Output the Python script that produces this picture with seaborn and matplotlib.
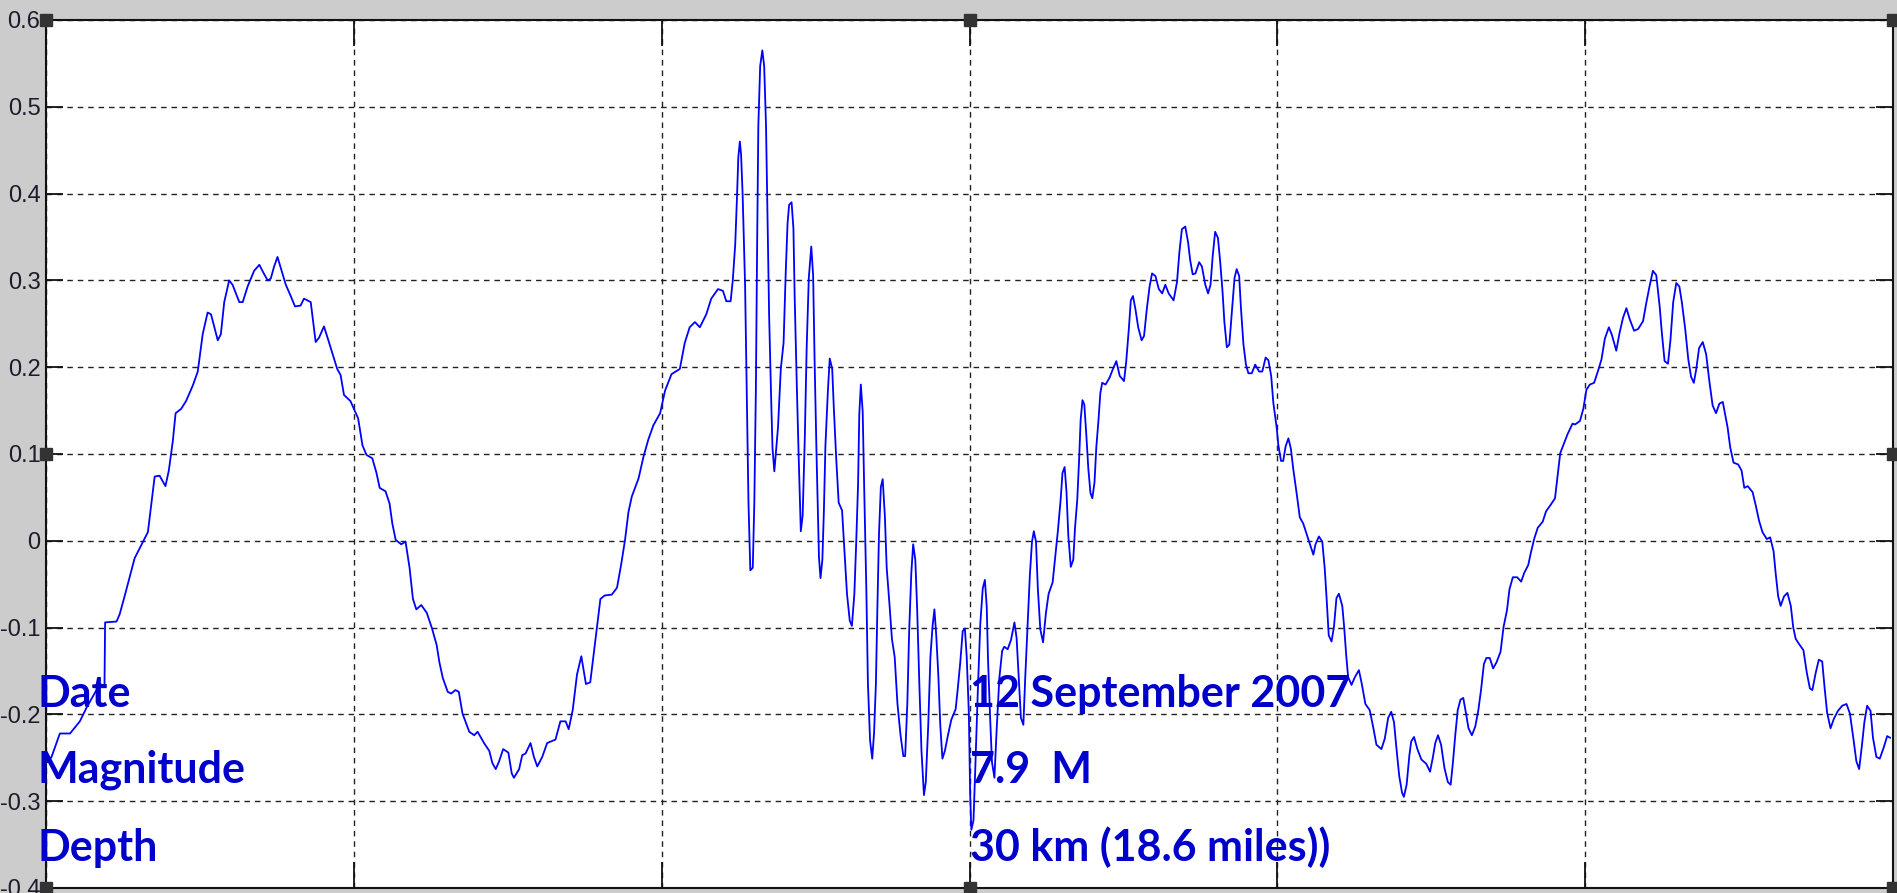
import numpy as np
import pandas as pd
import matplotlib
matplotlib.use("Agg")
import matplotlib.pyplot as plt
import seaborn as sns
from matplotlib import font_manager

# ----- DATA (x in grid units, y in signal units) -----
x_seg1 = [0.005, 0.018, 0.045, 0.078, 0.110, 0.132, 0.175, 0.190, 0.192, 0.229, 0.239, 0.256,
          0.288, 0.315, 0.331, 0.342, 0.353, 0.369, 0.388, 0.399, 0.412, 0.421, 0.439, 0.455,
          0.477, 0.493, 0.509, 0.525, 0.536, 0.558, 0.568, 0.579, 0.595, 0.606, 0.628, 0.639,
          0.655, 0.676, 0.693, 0.703, 0.720, 0.730, 0.741, 0.752, 0.763, 0.779, 0.795, 0.809,
          0.827, 0.838, 0.860, 0.876, 0.887, 0.903, 0.919, 0.946, 0.957, 0.968, 0.989]
y_seg1 = [-0.255, -0.249, -0.222, -0.222, -0.208, -0.192, -0.165, -0.167, -0.094, -0.093, -0.085, -0.063,
          -0.020, -0.001, 0.010, 0.042, 0.074, 0.075, 0.063, 0.081, 0.115, 0.147, 0.152, 0.161,
          0.179, 0.195, 0.238, 0.263, 0.261, 0.231, 0.238, 0.275, 0.300, 0.295, 0.275, 0.275,
          0.293, 0.311, 0.318, 0.311, 0.300, 0.302, 0.316, 0.327, 0.314, 0.295, 0.282, 0.270,
          0.271, 0.279, 0.275, 0.229, 0.234, 0.247, 0.229, 0.198, 0.191, 0.168, 0.161]

x_seg2 = [1.014, 1.028, 1.041, 1.060, 1.073, 1.084, 1.103, 1.116, 1.125, 1.136, 1.154, 1.168,
          1.181, 1.192, 1.203, 1.219, 1.237, 1.254, 1.269, 1.278, 1.289, 1.305, 1.316, 1.330,
          1.341, 1.353, 1.375, 1.391, 1.402, 1.423, 1.440, 1.450, 1.461, 1.472, 1.485, 1.502,
          1.513, 1.520, 1.537, 1.547, 1.558, 1.574, 1.585, 1.596, 1.612, 1.628, 1.655, 1.671,
          1.688, 1.698, 1.711, 1.725, 1.739, 1.754, 1.768, 1.779, 1.790, 1.801, 1.815, 1.838,
          1.855, 1.869, 1.881, 1.892, 1.903, 1.925, 1.941, 1.957, 1.973, 1.995]
y_seg2 = [0.141, 0.110, 0.099, 0.095, 0.079, 0.061, 0.057, 0.043, 0.020, 0.001, -0.004, -0.001,
          -0.031, -0.067, -0.079, -0.074, -0.083, -0.101, -0.120, -0.140, -0.158, -0.174, -0.176, -0.172,
          -0.174, -0.199, -0.220, -0.224, -0.220, -0.233, -0.242, -0.256, -0.263, -0.254, -0.240, -0.244,
          -0.268, -0.273, -0.263, -0.247, -0.245, -0.233, -0.249, -0.260, -0.249, -0.233, -0.229, -0.208,
          -0.208, -0.217, -0.195, -0.154, -0.133, -0.165, -0.163, -0.131, -0.099, -0.067, -0.063, -0.062,
          -0.054, -0.026, 0.001, 0.033, 0.051, 0.072, 0.097, 0.117, 0.133, 0.147]

x_seg3 = [2.011, 2.032, 2.059, 2.075, 2.091, 2.108, 2.124, 2.145, 2.161, 2.183, 2.199, 2.210,
          2.224, 2.231, 2.239, 2.245, 2.249, 2.254, 2.258, 2.263, 2.271, 2.277, 2.282, 2.288,
          2.296, 2.301, 2.306, 2.310, 2.314, 2.320, 2.327, 2.333, 2.339, 2.344, 2.349, 2.355,
          2.360, 2.366, 2.371, 2.378, 2.387, 2.396, 2.403, 2.409, 2.414, 2.422, 2.428, 2.432,
          2.439, 2.445, 2.452, 2.458, 2.465, 2.471, 2.478, 2.486, 2.492, 2.497, 2.503, 2.511,
          2.516, 2.522, 2.527, 2.532, 2.540, 2.546, 2.554, 2.559, 2.567, 2.575, 2.586, 2.594,
          2.602, 2.611, 2.618, 2.626, 2.632, 2.638, 2.642, 2.647, 2.653, 2.658, 2.665, 2.670,
          2.677, 2.684, 2.690, 2.696, 2.701, 2.706, 2.712, 2.718, 2.725, 2.731, 2.740, 2.748,
          2.757, 2.766, 2.776, 2.785, 2.791, 2.798, 2.804, 2.811, 2.817, 2.824, 2.830, 2.837,
          2.844, 2.852, 2.858, 2.866, 2.873, 2.880, 2.886, 2.892, 2.899, 2.905, 2.912, 2.920,
          2.930, 2.941, 2.955, 2.962, 2.970, 2.978, 2.985, 2.991, 2.998, 3.002, 3.006]
y_seg3 = [0.173, 0.192, 0.198, 0.228, 0.246, 0.252, 0.246, 0.261, 0.279, 0.290, 0.288, 0.276,
          0.276, 0.300, 0.342, 0.399, 0.442, 0.460, 0.445, 0.399, 0.294, 0.161, 0.044, -0.034,
          -0.031, 0.044, 0.173, 0.336, 0.478, 0.547, 0.565, 0.547, 0.478, 0.366, 0.261, 0.173,
          0.107, 0.080, 0.101, 0.131, 0.198, 0.228, 0.309, 0.366, 0.387, 0.390, 0.360, 0.282,
          0.179, 0.098, 0.011, 0.029, 0.119, 0.222, 0.303, 0.339, 0.306, 0.204, 0.101, -0.019,
          -0.043, -0.022, 0.035, 0.110, 0.173, 0.210, 0.198, 0.155, 0.095, 0.044, 0.035, -0.013,
          -0.061, -0.092, -0.098, -0.061, -0.002, 0.065, 0.146, 0.180, 0.149, 0.059, -0.058, -0.164,
          -0.230, -0.251, -0.221, -0.164, -0.073, 0.008, 0.062, 0.071, 0.029, -0.031, -0.073, -0.113,
          -0.134, -0.188, -0.224, -0.248, -0.248, -0.188, -0.104, -0.037, -0.004, -0.022, -0.079, -0.164,
          -0.242, -0.293, -0.278, -0.212, -0.134, -0.098, -0.079, -0.109, -0.157, -0.212, -0.251, -0.242,
          -0.224, -0.206, -0.194, -0.170, -0.140, -0.104, -0.101, -0.134, -0.200, -0.290, -0.333]

x_seg4 = [3.013, 3.019, 3.027, 3.035, 3.043, 3.050, 3.056, 3.060, 3.067, 3.073, 3.081, 3.088,
          3.097, 3.106, 3.113, 3.124, 3.135, 3.146, 3.153, 3.160, 3.167, 3.175, 3.181, 3.189,
          3.196, 3.203, 3.209, 3.216, 3.222, 3.230, 3.239, 3.248, 3.257, 3.270, 3.278, 3.287,
          3.296, 3.302, 3.309, 3.315, 3.321, 3.329, 3.337, 3.343, 3.350, 3.356, 3.361, 3.367,
          3.373, 3.380, 3.386, 3.393, 3.399, 3.406, 3.412, 3.419, 3.425, 3.431, 3.442, 3.455,
          3.466, 3.477, 3.488, 3.502, 3.509, 3.518, 3.524, 3.531, 3.539, 3.548, 3.559, 3.567,
          3.576, 3.585, 3.593, 3.604, 3.615, 3.626, 3.636, 3.647, 3.663, 3.674, 3.682, 3.690,
          3.701, 3.710, 3.717, 3.725, 3.734, 3.746, 3.755, 3.766, 3.775, 3.783, 3.790, 3.798,
          3.807, 3.814, 3.822, 3.828, 3.836, 3.844, 3.852, 3.861, 3.868, 3.876, 3.882, 3.890,
          3.898, 3.906, 3.917, 3.928, 3.941, 3.951, 3.962, 3.971, 3.980]
y_seg4 = [-0.322, -0.260, -0.173, -0.096, -0.055, -0.045, -0.076, -0.135, -0.204, -0.255, -0.273, -0.219,
          -0.158, -0.127, -0.122, -0.125, -0.114, -0.094, -0.112, -0.158, -0.204, -0.212, -0.158, -0.096,
          -0.040, -0.001, 0.011, -0.001, -0.055, -0.102, -0.117, -0.084, -0.061, -0.048, -0.020, 0.011,
          0.047, 0.078, 0.085, 0.057, 0.006, -0.030, -0.022, 0.016, 0.047, 0.093, 0.139, 0.162,
          0.157, 0.119, 0.083, 0.055, 0.049, 0.067, 0.108, 0.139, 0.170, 0.182, 0.180, 0.188,
          0.198, 0.207, 0.190, 0.184, 0.206, 0.246, 0.277, 0.282, 0.267, 0.246, 0.231, 0.236,
          0.267, 0.293, 0.308, 0.305, 0.290, 0.285, 0.295, 0.285, 0.277, 0.298, 0.333, 0.359,
          0.362, 0.344, 0.323, 0.307, 0.308, 0.321, 0.316, 0.295, 0.285, 0.295, 0.328, 0.356,
          0.349, 0.323, 0.287, 0.252, 0.223, 0.226, 0.262, 0.303, 0.313, 0.305, 0.267, 0.226,
          0.203, 0.193, 0.193, 0.203, 0.195, 0.195, 0.211, 0.208, 0.190]

x_seg5 = [3.987, 3.998, 4.003, 4.012, 4.019, 4.027, 4.036, 4.044, 4.052, 4.063, 4.073, 4.084,
          4.095, 4.106, 4.117, 4.124, 4.135, 4.146, 4.154, 4.160, 4.167, 4.176, 4.184, 4.192,
          4.200, 4.211, 4.217, 4.224, 4.230, 4.241, 4.252, 4.265, 4.275, 4.286, 4.300, 4.311,
          4.322, 4.338, 4.349, 4.360, 4.370, 4.379, 4.388, 4.396, 4.405, 4.411, 4.420, 4.429,
          4.435, 4.444, 4.455, 4.468, 4.484, 4.496, 4.505, 4.513, 4.522, 4.532, 4.543, 4.554,
          4.563, 4.570, 4.578, 4.586, 4.595, 4.604, 4.612, 4.621, 4.632, 4.643, 4.653, 4.662,
          4.671, 4.679, 4.690, 4.701, 4.712, 4.725, 4.735, 4.746, 4.754, 4.765, 4.779, 4.792,
          4.802, 4.815, 4.824, 4.835, 4.846, 4.862, 4.873, 4.889, 4.902, 4.910, 4.919, 4.930,
          4.943, 4.959]
y_seg5 = [0.159, 0.130, 0.111, 0.092, 0.092, 0.109, 0.118, 0.106, 0.082, 0.054, 0.027, 0.020,
          0.008, -0.004, -0.016, -0.004, 0.005, -0.001, -0.032, -0.066, -0.109, -0.116, -0.099, -0.066,
          -0.061, -0.075, -0.099, -0.133, -0.157, -0.166, -0.157, -0.149, -0.166, -0.188, -0.195, -0.214,
          -0.235, -0.240, -0.228, -0.204, -0.197, -0.209, -0.243, -0.271, -0.290, -0.295, -0.281, -0.247,
          -0.231, -0.226, -0.240, -0.252, -0.257, -0.266, -0.250, -0.233, -0.224, -0.235, -0.262, -0.278,
          -0.281, -0.257, -0.224, -0.195, -0.183, -0.181, -0.197, -0.216, -0.224, -0.214, -0.195, -0.171,
          -0.142, -0.135, -0.135, -0.147, -0.140, -0.128, -0.099, -0.080, -0.056, -0.042, -0.042, -0.047,
          -0.037, -0.028, -0.013, 0.003, 0.015, 0.022, 0.034, 0.042, 0.049, 0.073, 0.101, 0.111,
          0.123, 0.135]

x_seg6 = [4.967, 4.983, 4.994, 5.004, 5.015, 5.029, 5.042, 5.053, 5.064, 5.077, 5.087, 5.101,
          5.112, 5.123, 5.134, 5.145, 5.159, 5.172, 5.188, 5.198, 5.209, 5.220, 5.231, 5.242,
          5.249, 5.258, 5.269, 5.277, 5.286, 5.296, 5.306, 5.314, 5.325, 5.335, 5.344, 5.353,
          5.361, 5.370, 5.382, 5.393, 5.403, 5.414, 5.425, 5.436, 5.447, 5.454, 5.463, 5.471,
          5.482, 5.497, 5.508, 5.517, 5.528, 5.544, 5.554, 5.565, 5.576, 5.590, 5.601, 5.612,
          5.619, 5.627, 5.635, 5.646, 5.657, 5.668, 5.676, 5.684, 5.695, 5.709, 5.720, 5.730,
          5.738, 5.749, 5.759, 5.770, 5.778, 5.786, 5.797, 5.808, 5.821, 5.835, 5.849, 5.860,
          5.871, 5.881, 5.890, 5.899, 5.907, 5.916, 5.927, 5.935, 5.946, 5.957, 5.970, 5.981,
          5.991]
y_seg6 = [0.134, 0.138, 0.152, 0.174, 0.180, 0.182, 0.196, 0.209, 0.233, 0.246, 0.237, 0.219,
          0.240, 0.257, 0.268, 0.255, 0.242, 0.244, 0.253, 0.273, 0.293, 0.311, 0.306, 0.270,
          0.240, 0.207, 0.204, 0.231, 0.275, 0.297, 0.293, 0.275, 0.244, 0.209, 0.189, 0.182,
          0.198, 0.222, 0.229, 0.215, 0.185, 0.156, 0.147, 0.158, 0.160, 0.147, 0.130, 0.108,
          0.090, 0.088, 0.081, 0.061, 0.063, 0.056, 0.041, 0.023, 0.010, 0.002, 0.004, -0.012,
          -0.038, -0.064, -0.075, -0.064, -0.060, -0.075, -0.100, -0.113, -0.119, -0.126, -0.152, -0.170,
          -0.172, -0.152, -0.137, -0.139, -0.170, -0.198, -0.216, -0.205, -0.196, -0.190, -0.188, -0.199,
          -0.227, -0.254, -0.263, -0.236, -0.209, -0.190, -0.196, -0.227, -0.249, -0.251, -0.238, -0.225,
          -0.227]

y_ticks = [-0.4, -0.3, -0.2, -0.1, 0, 0.1, 0.2, 0.3, 0.4, 0.5, 0.6]
y_tick_labels = ['-0.4', '-0.3', '-0.2', '-0.1', '0', '0.1', '0.2', '0.3', '0.4', '0.5', '0.6']
x_ticks = [0, 1, 2, 3, 4, 5, 6]

info_labels = ['Date', 'Magnitude', 'Depth']
info_values = ['12 September 2007', '7.9  M', '30 km (18.6 miles))']
info_rows_y = [-0.1915, -0.279, -0.369]

trace = pd.DataFrame({
    'x': np.concatenate([x_seg1, x_seg2, x_seg3, x_seg4, x_seg5, x_seg6]),
    'y': np.concatenate([y_seg1, y_seg2, y_seg3, y_seg4, y_seg5, y_seg6]),
})

# ----- FIGURE -----
sns.set_style('white')
installed = {f.name for f in font_manager.fontManager.ttflist}
tick_font = 'Liberation Sans Narrow' if 'Liberation Sans Narrow' in installed else 'Liberation Sans'
text_font = 'Lato' if 'Lato' in installed else 'DejaVu Sans'

fig = plt.figure(figsize=(18.97, 8.93), dpi=100, facecolor='#cccccc')
ax = fig.add_axes([46 / 1897, 5 / 893, 1847 / 1897, 868 / 893])
ax.set_facecolor('white')

sns.lineplot(data=trace, x='x', y='y', sort=False, estimator=None,
             color='#0000ff', linewidth=1.3, ax=ax, zorder=3)

ax.set_xlim(0, 5.977)
ax.set_ylim(-0.4, 0.6)
ax.set_xticks(x_ticks)
ax.set_yticks(y_ticks)
ax.set_yticklabels(y_tick_labels)
ax.set_xlabel('')
ax.set_ylabel('')

ax.grid(True, color='#222222', linestyle=(0, (4, 3.5)), linewidth=1.0)
ax.tick_params(axis='y', which='both', direction='in', left=True, right=True,
               length=12, width=1.3, color='#111111', pad=4,
               labelsize=17, labelcolor='#1c1c2c')
ax.tick_params(axis='x', which='both', direction='in', top=True, bottom=True,
               length=19, width=1.3, color='#111111', labelbottom=False)
for label in ax.get_yticklabels():
    label.set_family(tick_font)
for spine in ax.spines.values():
    spine.set_color('#111111')
    spine.set_linewidth(1.5)

# info text
for name, value, yy in zip(info_labels, info_values, info_rows_y):
    ax.text(-0.029, yy, name, color='#0000cc', fontsize=31, fontweight='bold',
            family=text_font, va='baseline', ha='left', zorder=10)
    ax.text(3.0, yy, value, color='#0000cc', fontsize=31, fontweight='bold',
            family=text_font, va='baseline', ha='left', zorder=10)

# selection handles of the plot window
ax.plot([0, 0.5, 1, 0, 1, 0, 0.5, 1], [1, 1, 1, 0.5, 0.5, 0, 0, 0],
        transform=ax.transAxes, ls='none', marker='s', ms=8,
        color='#333333', clip_on=False, zorder=11)

fig.savefig('out.png', dpi=100, facecolor=fig.get_facecolor())
